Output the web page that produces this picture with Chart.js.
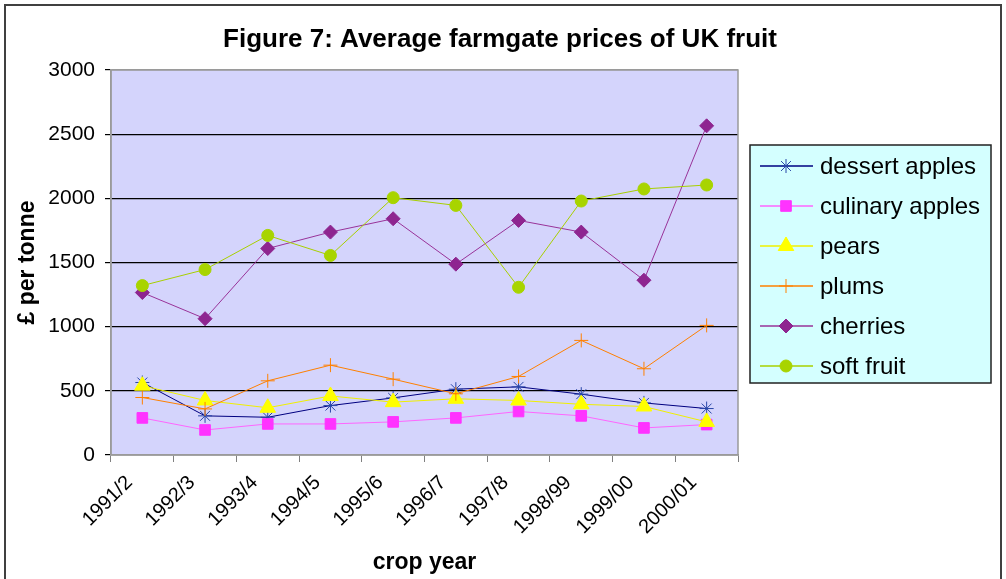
<!DOCTYPE html>
<html>
<head>
<meta charset="utf-8">
<script src="https://cdn.jsdelivr.net/npm/chart.js@4/dist/chart.umd.min.js"></script>
<style>
  html, body { margin: 0; padding: 0; background: #fff; }
  #wrap { width: 1006px; height: 579px; position: relative; }
</style>
</head>
<body>
<div id="wrap"><canvas id="myChart" width="1006" height="579"></canvas></div>
<script>
var years = ['1991/2', '1992/3', '1993/4', '1994/5', '1995/6', '1996/7', '1997/8', '1998/99', '1999/00', '2000/01'];
var dessertApples = [565, 305, 294, 385, 445, 513, 531, 474, 406, 362];
var culinaryApples = [289, 195, 242, 242, 258, 289, 339, 305, 211, 237];
var pears = [540, 425, 368, 460, 412, 438, 425, 395, 378, 258];
var plums = [448, 359, 578, 700, 591, 477, 612, 893, 672, 1010];
var cherries = [1266, 1062, 1609, 1737, 1841, 1487, 1828, 1737, 1362, 2565];
var softFruit = [1320, 1445, 1711, 1555, 2005, 1945, 1307, 1979, 2073, 2104];
var yTicks = [0, 500, 1000, 1500, 2000, 2500, 3000];

var FONT = '"Liberation Sans", Arial, sans-serif';
var ctx = document.getElementById('myChart');

// plot area background + outer frame + title
var framePlugin = {
    id: 'frame',
    beforeDraw: function(chart){
        var c = chart.ctx, a = chart.chartArea;
        c.save();
        c.fillStyle = '#fff';
        c.fillRect(0, 0, chart.width, chart.height);
        c.fillStyle = '#D4D4FC';
        c.fillRect(a.left, a.top, a.right - a.left, a.bottom - a.top);
        c.strokeStyle = '#404040';
        c.lineWidth = 2;
        c.strokeRect(5, 5, 996, 620);
        c.fillStyle = '#000';
        c.font = 'bold 26px ' + FONT;
        c.textAlign = 'center';
        c.textBaseline = 'middle';
        c.fillText('Figure 7: Average farmgate prices of UK fruit', 500, 40);
        c.restore();
    },
    beforeDatasetsDraw: function(chart){
        var c = chart.ctx, a = chart.chartArea;
        c.save();
        c.strokeStyle = '#9A9A9A';
        c.lineWidth = 1.5;
        c.strokeRect(a.left, a.top, a.right - a.left, a.bottom - a.top);
        c.restore();
    }
};

// boxed legend to the right of the plot
var boxLegend = {
    id: 'boxLegend',
    afterDraw: function(chart){
        var c = chart.ctx;
        var sets = chart.data.datasets;
        c.save();
        c.fillStyle = '#D4FFFF';
        c.fillRect(750, 145, 241, 238);
        c.strokeStyle = '#222';
        c.lineWidth = 1.5;
        c.strokeRect(750, 145, 241, 238);
        c.font = '24px ' + FONT;
        c.textBaseline = 'middle';
        c.textAlign = 'left';
        for(var i = 0; i < sets.length; i++){
            var ds = sets[i];
            var y = 166 + i * 40;
            c.strokeStyle = ds.borderColor;
            c.lineWidth = 1.5;
            c.beginPath();
            c.moveTo(760, y);
            c.lineTo(813, y);
            c.stroke();
            if(Chart.helpers && Chart.helpers.drawPoint){
                c.fillStyle = ds.pointBackgroundColor;
                c.strokeStyle = ds.pointBorderColor;
                c.lineWidth = 1;
                Chart.helpers.drawPoint(c, {pointStyle: ds.pointStyle, rotation: 0, radius: ds.pointRadius, borderWidth: 1}, 786, y);
            }
            c.fillStyle = '#000';
            c.fillText(ds.label, 820, y + 1);
        }
        c.restore();
    }
};

function series(label, data, line, mark, style, radius, order){
    return {
        label: label,
        data: data,
        borderColor: line,
        backgroundColor: mark,
        borderWidth: 1,
        pointStyle: style,
        pointRadius: radius,
        pointHoverRadius: radius,
        pointBackgroundColor: mark,
        pointBorderColor: mark,
        pointBorderWidth: 1,
        fill: false,
        tension: 0,
        order: order
    };
}

var myChart = new Chart(ctx, {
    type: 'line',
    data: {
        labels: years,
        datasets: [
            series('dessert apples', dessertApples, '#000080', '#2846A8', 'star', 7, 6),
            series('culinary apples', culinaryApples, '#FF66FF', '#FF33FF', 'rect', 7.5, 5),
            series('pears', pears, '#F0F000', '#FFFF00', 'triangle', 9, 4),
            series('plums', plums, '#FF8000', '#FF8000', 'cross', 7, 3),
            series('cherries', cherries, '#993399', '#8E2590', 'rectRot', 7, 2),
            series('soft fruit', softFruit, '#A8D000', '#A8D400', 'circle', 6, 1)
        ]
    },
    options: {
        responsive: false,
        animation: false,
        layout: { padding: { left: 0, top: 70, right: 268, bottom: 0 } },
        plugins: {
            legend: { display: false },
            tooltip: { enabled: false }
        },
        scales: {
            x: {
                type: 'category',
                offset: true,
                grid: { offset: true, drawOnChartArea: false, drawTicks: true, tickLength: 7, color: '#808080' },
                border: { color: '#9A9A9A', width: 1.5 },
                ticks: {
                    autoSkip: false,
                    minRotation: 45,
                    maxRotation: 45,
                    padding: 9,
                    labelOffset: -13,
                    color: '#000',
                    font: { family: FONT, size: 20 }
                },
                title: {
                    display: true,
                    text: 'crop year',
                    color: '#000',
                    font: { family: FONT, size: 23, weight: 'bold' },
                    padding: { top: 0, bottom: 3 }
                },
                afterFit: function(scale){ scale.height = 124; }
            },
            y: {
                min: 0,
                max: 3000,
                afterBuildTicks: function(scale){
                    scale.ticks = yTicks.map(function(v){ return {value: v}; });
                },
                grid: {
                    color: function(c){ return (c.tick && (c.tick.value === 3000 || c.tick.value === 0)) ? '#9A9A9A' : '#000'; },
                    tickColor: '#000',
                    tickLength: 6,
                    lineWidth: 1.2
                },
                border: { color: '#9A9A9A', width: 1.5 },
                ticks: {
                    padding: 10,
                    color: '#000',
                    font: { family: FONT, size: 21 },
                    callback: function(v){ return String(v); }
                },
                title: {
                    display: true,
                    text: '£ per tonne',
                    color: '#000',
                    font: { family: FONT, size: 23, weight: 'bold' },
                    padding: { top: 14, bottom: 0 }
                },
                afterFit: function(scale){ scale.width = 111; }
            }
        }
    },
    plugins: [framePlugin, boxLegend]
});
</script>
</body>
</html>
